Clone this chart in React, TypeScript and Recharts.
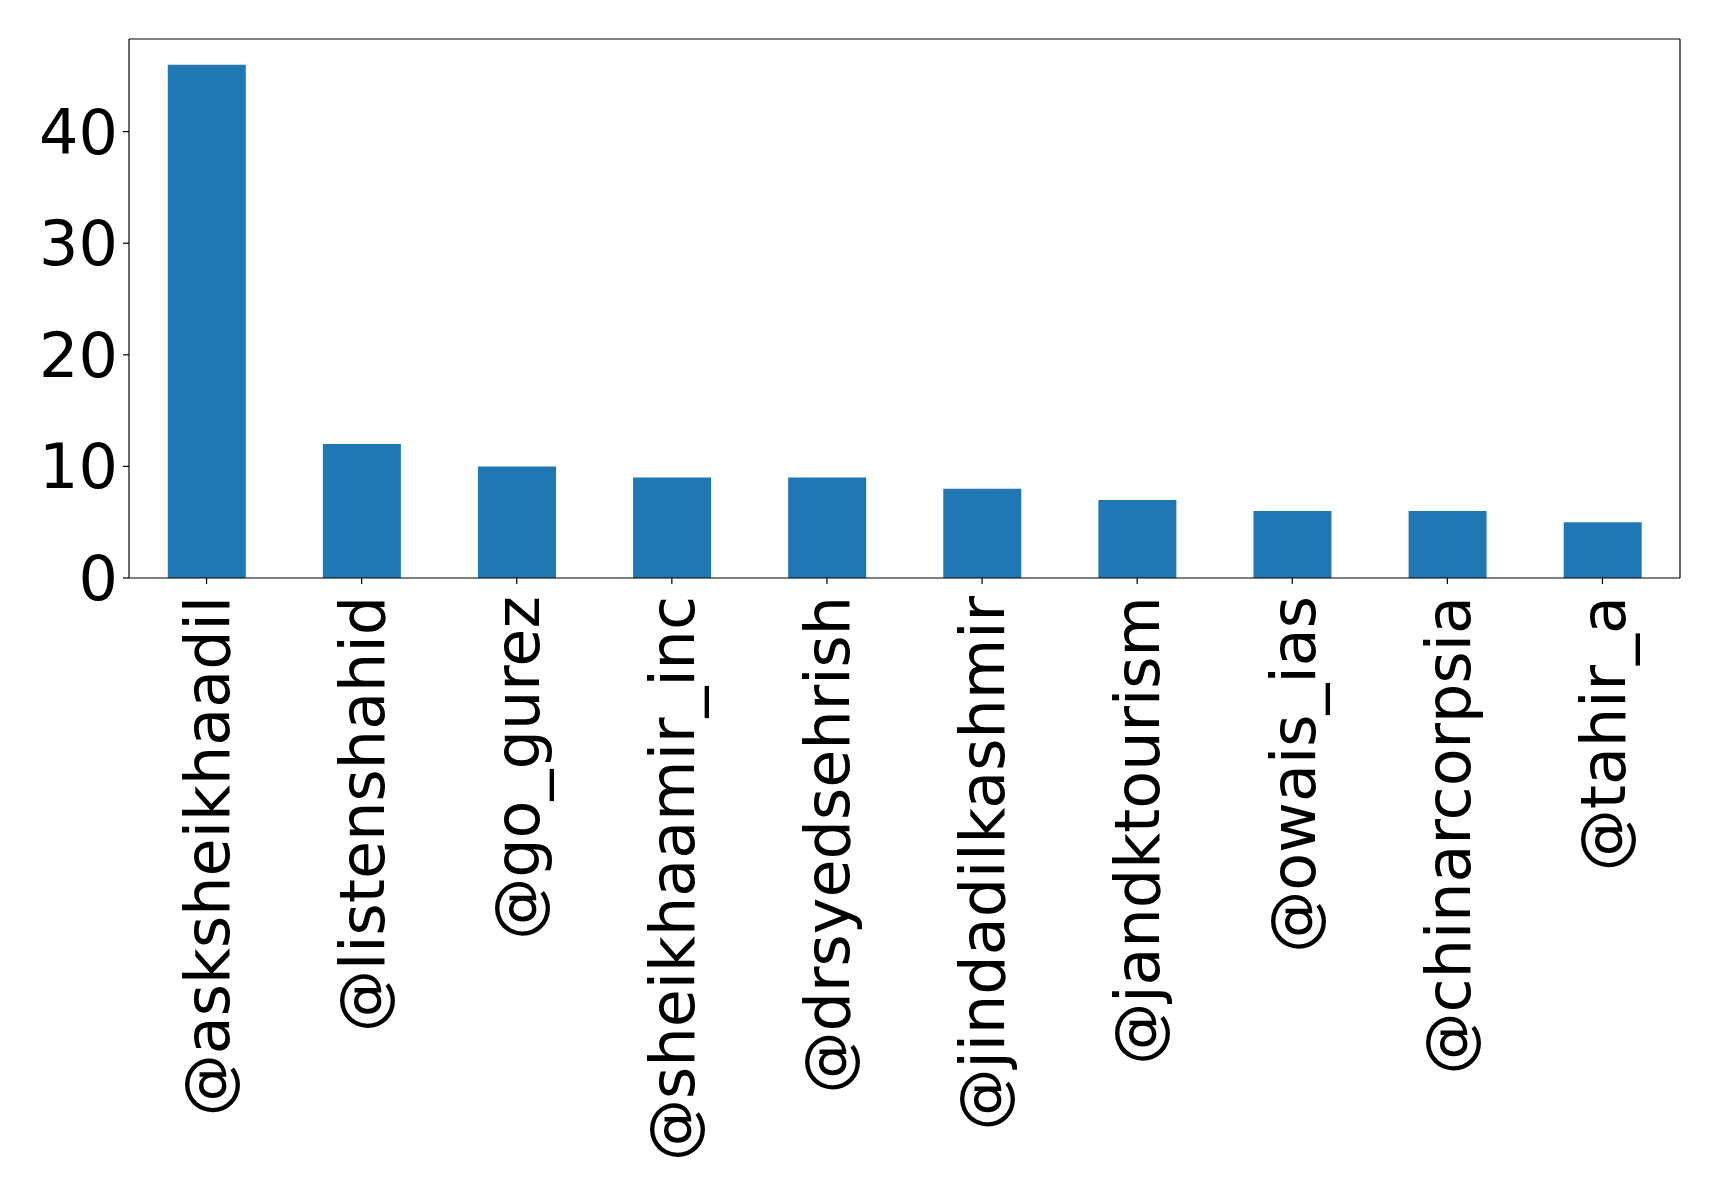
import { BarChart, Bar, XAxis, YAxis } from 'recharts';

const handles = [
  '@asksheikhaadil',
  '@listenshahid',
  '@go_gurez',
  '@sheikhaamir_inc',
  '@drsyedsehrish',
  '@jindadilkashmir',
  '@jandktourism',
  '@owais_ias',
  '@chinarcorpsia',
  '@tahir_a',
];
const mentions = [46, 12, 10, 9, 9, 8, 7, 6, 6, 5];
const yTicks = [0, 10, 20, 30, 40];

const data = handles.map((name, i) => ({ name, count: mentions[i] }));

const FONT = 'DejaVu Sans, sans-serif';

// vertical category labels, hanging down from each tick
function HandleTick(props: any) {
  const { x, y, payload } = props;
  return (
    <g transform={`translate(${x},${y})`}>
      <text
        transform="rotate(-90)"
        x={-10}
        y={0}
        dy="0.36em"
        textAnchor="end"
        fontSize={62}
        fontFamily={FONT}
        fill="#000"
      >
        {payload.value}
      </text>
    </g>
  );
}

export default function App() {
  return (
    <div style={{ position: 'absolute', left: 0, top: 0, background: '#fff' }}>
      <BarChart
        width={1719}
        height={1197}
        data={data}
        margin={{ top: 38, right: 38, left: 0, bottom: 0 }}
        barCategoryGap="25%"
      >
        <XAxis
          dataKey="name"
          interval={0}
          height={619}
          stroke="#000"
          tick={<HandleTick />}
          tickSize={6}
          tickLine={{ stroke: '#000', strokeWidth: 1.2 }}
          axisLine={{ stroke: '#000', strokeWidth: 1.2 }}
        />
        <XAxis
          xAxisId="top"
          orientation="top"
          dataKey="name"
          height={1}
          stroke="#000"
          tick={false}
          tickLine={false}
          axisLine={{ stroke: '#000', strokeWidth: 1.2 }}
        />
        <YAxis
          width={129}
          domain={[0, 48.3]}
          ticks={yTicks}
          stroke="#000"
          tickSize={6}
          tickMargin={5}
          tick={{ fontSize: 62, fontFamily: FONT, fill: '#000' }}
          tickLine={{ stroke: '#000', strokeWidth: 1.2 }}
          axisLine={{ stroke: '#000', strokeWidth: 1.2 }}
        />
        <YAxis
          yAxisId="right"
          orientation="right"
          width={1}
          domain={[0, 48.3]}
          stroke="#000"
          tick={false}
          tickLine={false}
          axisLine={{ stroke: '#000', strokeWidth: 1.2 }}
        />
        <Bar dataKey="count" fill="#1f77b4" isAnimationActive={false} />
      </BarChart>
    </div>
  );
}
